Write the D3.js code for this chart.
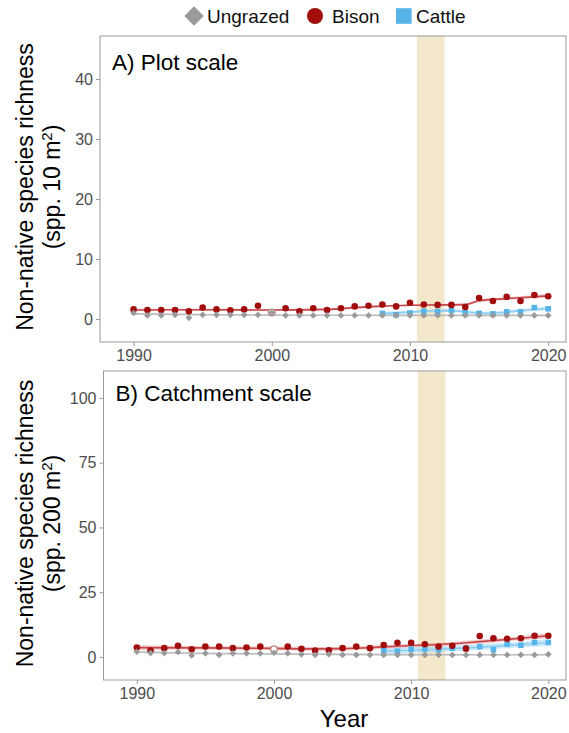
<!DOCTYPE html>
<html>
<head>
<meta charset="utf-8">
<script src="https://cdn.jsdelivr.net/npm/d3@7"></script>
<style>
  body { margin: 0; background: #fff; }
  svg { display: block; font-family: "Liberation Sans", Arial, Helvetica, sans-serif; }
</style>
</head>
<body>
<svg id="chart" width="569" height="733"></svg>
<script>
// ---- Survey years ----
const years = [1990,1991,1992,1993,1994,1995,1996,1997,1998,1999,2000,2001,2002,2003,2004,
               2005,2006,2007,2008,2009,2010,2011,2012,2013,2014,2015,2016,2017,2018,2019,2020];
const cattleYears = [2008,2009,2010,2011,2012,2013,2014,2015,2016,2017,2018,2019,2020];
const bisonOpenYears = [2000];
const shadedYears = [2010.5, 2012.5];

// ---- Plot scale (spp. per 10 m2) ----
const bisonPlot    = [1.6,1.5,1.5,1.5,1.3,1.9,1.6,1.45,1.6,2.2,1.1,1.8,1.3,1.8,1.5,
                      1.8,2.1,2.2,2.4,2.1,2.7,2.4,2.35,2.35,2.0,3.5,3.0,3.7,3.0,4.0,3.8];
const ungrazedPlot = [1.0,0.6,0.6,0.7,0.2,0.7,0.7,0.7,0.7,0.7,1.05,0.6,0.6,0.6,0.6,
                      0.6,0.6,0.6,0.6,0.6,0.6,0.6,0.6,0.6,0.6,0.6,0.6,0.6,0.6,0.6,0.6];
const cattlePlot   = [0.95,0.7,1.0,1.3,1.25,1.45,1.1,0.95,0.85,1.2,1.2,1.9,1.7];

// ---- Catchment scale (spp. per 200 m2) ----
const bisonCatch    = [3.6,2.5,3.4,4.3,3.0,4.0,4.0,3.4,3.6,4.0,3.0,4.0,3.1,2.5,2.6,
                       3.4,4.0,3.4,4.6,5.5,5.5,4.9,4.0,4.3,3.2,8.1,7.2,7.0,7.2,8.2,8.2];
const ungrazedCatch = [2.0,1.5,1.5,1.9,0.6,1.4,0.8,1.4,1.4,1.4,1.6,1.4,1.0,0.8,1.0,
                       0.8,0.8,0.8,0.8,0.8,0.8,0.8,0.8,0.8,0.8,0.8,0.8,0.8,0.8,0.8,1.0];
const cattleCatch   = [2.5,2.2,3.0,3.0,2.8,3.4,3.4,4.0,2.8,5.0,4.5,5.6,5.6];

// ---- Smoothed trends (year, fit, standard error) ----
const bisonTrendYearsPlot = [1990,1995,2000,2004,2006,2008,2010,2012,2014,2015,2017,2020];
const bisonTrendPlot      = [1.5,1.55,1.5,1.6,1.9,2.15,2.3,2.35,2.4,3.05,3.4,3.85];
const bisonSePlot         = [0.22,0.18,0.18,0.18,0.18,0.18,0.18,0.18,0.22,0.22,0.22,0.3];
const cattleTrendYearsPlot = [2008,2010,2011,2013,2014,2015,2016,2017,2018,2020];
const cattleTrendPlot      = [0.9,1.15,1.3,1.4,1.2,1.0,0.95,1.15,1.4,1.75];
const cattleSePlot         = [0.3,0.25,0.25,0.25,0.25,0.25,0.25,0.25,0.25,0.35];
const ungrazedTrendYearsPlot = [1990,1995,2000,2005,2010,2015,2020];
const ungrazedTrendPlot      = [0.85,0.72,0.66,0.62,0.6,0.6,0.6];
const ungrazedSePlot         = [0.15,0.1,0.1,0.1,0.1,0.1,0.12];

const bisonTrendYearsCatch = [1990,1995,2000,2003,2005,2008,2010,2013,2015,2018,2020];
const bisonTrendCatch      = [3.6,3.5,3.3,3.1,3.2,3.9,4.4,5.1,5.9,7.2,8.2];
const bisonSeCatch         = [0.9,0.7,0.7,0.7,0.7,0.7,0.7,0.7,0.8,0.8,1.0];
const cattleTrendYearsCatch = [2008,2010,2012,2014,2016,2018,2020];
const cattleTrendCatch      = [2.3,2.6,3.0,3.5,4.1,4.8,5.5];
const cattleSeCatch         = [1.2,1.1,1.1,1.1,1.1,1.1,1.3];
const ungrazedTrendYearsCatch = [1990,1993,1996,2000,2005,2010,2015,2020];
const ungrazedTrendCatch      = [1.9,1.55,1.3,1.2,1.0,0.9,0.85,0.85];
const ungrazedSeCatch         = [0.45,0.35,0.3,0.3,0.3,0.3,0.3,0.4];

// ---- Axis ticks and labels ----
const xTicks = [1990, 2000, 2010, 2020];
const yTicksPlot = [0, 10, 20, 30, 40];
const yTicksCatch = [0, 25, 50, 75, 100];
const legendLabels = ["Ungrazed", "Bison", "Cattle"];

// ---- Styling ----
const COL = {
  bison: "#a20e0e", bisonLine: "#c8474a", bisonBand: "#e7a3a3",
  cattle: "#56b4e9", cattleLine: "#8fcff2", cattleBand: "#9fd6f5",
  ungrazed: "#9a9a9a", ungrazedLine: "#bdbdbd", ungrazedBand: "#d6d6d6",
  shade: "#f4e8cc", border: "#9a9a9a", tickText: "#4d4d4d"
};
const svg = d3.select("#chart");

const zip = (xs, ys) => xs.map((x, i) => ({ x, y: ys[i] }));
const zip3 = (xs, ys, se) => xs.map((x, i) => ({ x, y: ys[i], se: se[i] }));

function drawPanel(cfg) {
  const g = svg.append("g");
  const x = d3.scaleLinear().domain([1987.57, 2021.29]).range([cfg.left, cfg.right]);
  const y = d3.scaleLinear().domain(cfg.yDomain).range([cfg.bottom, cfg.top]);

  const clipId = "clip-" + cfg.id;
  svg.append("clipPath").attr("id", clipId)
    .append("rect").attr("x", cfg.left).attr("y", cfg.top)
    .attr("width", cfg.right - cfg.left).attr("height", cfg.bottom - cfg.top);
  const plot = g.append("g").attr("clip-path", `url(#${clipId})`);

  // Shaded period
  plot.append("rect")
    .attr("x", x(shadedYears[0])).attr("y", cfg.top)
    .attr("width", x(shadedYears[1]) - x(shadedYears[0]))
    .attr("height", cfg.bottom - cfg.top)
    .attr("fill", COL.shade);

  // Trend ribbons and lines
  const area = d3.area().curve(d3.curveMonotoneX)
    .x(d => x(d.x)).y0(d => y(d.y - d.se)).y1(d => y(d.y + d.se));
  const line = d3.line().curve(d3.curveMonotoneX).x(d => x(d.x)).y(d => y(d.y));
  const trends = [
    { data: cfg.ungrazedTrend, band: COL.ungrazedBand, line: COL.ungrazedLine },
    { data: cfg.cattleTrend, band: COL.cattleBand, line: COL.cattleLine },
    { data: cfg.bisonTrend, band: COL.bisonBand, line: COL.bisonLine }
  ];
  trends.forEach(t => {
    plot.append("path").datum(t.data).attr("d", area)
      .attr("fill", t.band).attr("fill-opacity", 0.55);
  });
  trends.forEach(t => {
    plot.append("path").datum(t.data).attr("d", line)
      .attr("fill", "none").attr("stroke", t.line).attr("stroke-width", 1.6);
  });

  // Points: cattle, then bison, then ungrazed on top
  const sq = 5.6;
  plot.selectAll(null).data(cfg.cattle).join("rect")
    .attr("x", d => x(d.x) - sq / 2).attr("y", d => y(d.y) - sq / 2)
    .attr("width", sq).attr("height", sq).attr("fill", COL.cattle);
  plot.selectAll(null).data(cfg.bison).join("circle")
    .attr("cx", d => x(d.x)).attr("cy", d => y(d.y)).attr("r", 3.3)
    .attr("fill", d => bisonOpenYears.includes(d.x) ? "#fff" : COL.bison)
    .attr("stroke", d => bisonOpenYears.includes(d.x) ? "#b58686" : "none")
    .attr("stroke-width", 1.4);
  const diamond = d3.symbol().type(d3.symbolDiamond2).size(28);
  plot.selectAll(null).data(cfg.ungrazed).join("path")
    .attr("d", diamond)
    .attr("transform", d => `translate(${x(d.x)},${y(d.y)})`)
    .attr("fill", COL.ungrazed);

  // Border
  g.append("rect").attr("x", cfg.left).attr("y", cfg.top)
    .attr("width", cfg.right - cfg.left).attr("height", cfg.bottom - cfg.top)
    .attr("fill", "none").attr("stroke", COL.border).attr("stroke-width", 1);

  // Axes
  const xAxis = g.append("g").attr("transform", `translate(0,${cfg.bottom})`)
    .call(d3.axisBottom(x).tickValues(xTicks).tickFormat(d3.format("d")).tickSize(4).tickPadding(4));
  const yAxis = g.append("g").attr("transform", `translate(${cfg.left},0)`)
    .call(d3.axisLeft(y).tickValues(cfg.yTicks).tickSize(4).tickPadding(3));
  [xAxis, yAxis].forEach(a => {
    a.select(".domain").remove();
    a.selectAll(".tick line").attr("stroke", COL.border);
    a.selectAll(".tick text").attr("fill", COL.tickText)
      .attr("font-size", 16).attr("font-family", "Liberation Sans, Arial, sans-serif");
  });

  // Panel title
  g.append("text").attr("x", cfg.left + 12).attr("y", cfg.titleY)
    .attr("font-size", 22.5).attr("fill", "#000").text(cfg.title);

  // Y-axis title (two lines)
  const cy = (cfg.top + cfg.bottom) / 2 - 2;
  g.append("text").attr("transform", `translate(33,${cy}) rotate(-90)`)
    .attr("text-anchor", "middle").attr("font-size", 23).attr("fill", "#000")
    .text("Non-native species richness");
  const t2 = g.append("text").attr("transform", `translate(60,${cy}) rotate(-90)`)
    .attr("text-anchor", "middle").attr("font-size", 23).attr("fill", "#000");
  t2.append("tspan").text(cfg.unit);
  t2.append("tspan").attr("dy", -8).attr("font-size", 15).text("2");
  t2.append("tspan").attr("dy", 8).text(")");
}

drawPanel({
  id: "a", title: "A) Plot scale", unit: "(spp. 10 m", titleY: 70,
  left: 100, right: 566, top: 36, bottom: 342, yDomain: [-3.83, 47.17], yTicks: yTicksPlot,
  bison: zip(years, bisonPlot), ungrazed: zip(years, ungrazedPlot), cattle: zip(cattleYears, cattlePlot),
  bisonTrend: zip3(bisonTrendYearsPlot, bisonTrendPlot, bisonSePlot),
  cattleTrend: zip3(cattleTrendYearsPlot, cattleTrendPlot, cattleSePlot),
  ungrazedTrend: zip3(ungrazedTrendYearsPlot, ungrazedTrendPlot, ungrazedSePlot)
});
drawPanel({
  id: "b", title: "B) Catchment scale", unit: "(spp. 200 m", titleY: 401,
  left: 103.5, right: 566, top: 371, bottom: 680, yDomain: [-8.9, 110.4], yTicks: yTicksCatch,
  bison: zip(years, bisonCatch), ungrazed: zip(years, ungrazedCatch), cattle: zip(cattleYears, cattleCatch),
  bisonTrend: zip3(bisonTrendYearsCatch, bisonTrendCatch, bisonSeCatch),
  cattleTrend: zip3(cattleTrendYearsCatch, cattleTrendCatch, cattleSeCatch),
  ungrazedTrend: zip3(ungrazedTrendYearsCatch, ungrazedTrendCatch, ungrazedSeCatch)
});

// X-axis title
svg.append("text").attr("x", 344).attr("y", 727).attr("text-anchor", "middle")
  .attr("font-size", 24).attr("fill", "#000").text("Year");

// Legend
const leg = svg.append("g");
const legY = 16;
leg.append("path").attr("d", d3.symbol().type(d3.symbolDiamond2).size(240)())
  .attr("transform", `translate(194,${legY})`).attr("fill", COL.ungrazed);
leg.append("circle").attr("cx", 315).attr("cy", legY).attr("r", 8).attr("fill", COL.bison);
leg.append("rect").attr("x", 396).attr("y", legY - 7.8).attr("width", 15.6).attr("height", 15.6)
  .attr("fill", COL.cattle);
[[207, legendLabels[0]], [332, legendLabels[1]], [416, legendLabels[2]]].forEach(([lx, label]) => {
  leg.append("text").attr("x", lx).attr("y", legY + 7).attr("font-size", 19)
    .attr("fill", "#111").text(label);
});
</script>
</body>
</html>
